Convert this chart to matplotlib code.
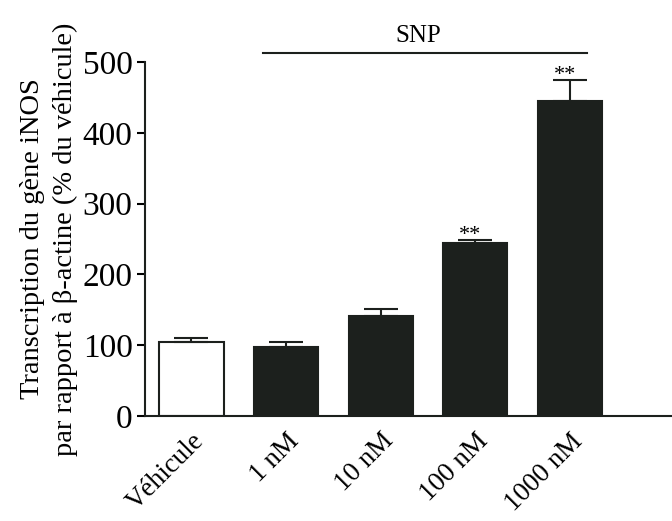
import numpy as np
from matplotlib import pyplot as plt

plt.rcParams['font.family'] = ['Liberation Serif', 'DejaVu Serif']

groups = ["Véhicule", "1 nM", "10 nM", "100 nM", "1000 nM"]
values = [104, 97, 141, 244, 445]
errors = [6, 7, 10, 5, 29]
colors = ["white", "#1c201d", "#1c201d", "#1c201d", "#1c201d"]
stars = ["", "", "", "**", "**"]

fig = plt.figure(figsize=(6.72, 5.21), dpi=100)
ax = fig.add_axes([0.216, 0.2015, 0.784, 0.6795])

x = np.arange(len(groups))
ax.bar(x, values, width=0.68, color=colors, edgecolor="#1c201d", linewidth=1.5,
       yerr=[np.zeros(len(errors)), errors], capsize=12,
       error_kw=dict(ecolor="#1c201d", elinewidth=1.5, capthick=1.5))

for xi, v, e, s in zip(x, values, errors, stars):
    if s:
        ax.text(xi - 0.05, v + e - 7, s, ha="center", va="bottom", fontsize=16)

# SNP bracket
ax.plot([0.76, 4.18], [513, 513], color="#1c201d", linewidth=1.5, clip_on=False)
ax.text(2.40, 528, "SNP", ha="center", va="baseline", fontsize=18)

ax.set_xlim(-0.49, 5.08)
ax.set_ylim(0, 500)
ax.set_yticks([0, 100, 200, 300, 400, 500])
ax.set_xticks(x)
ax.set_xticklabels(groups, rotation=45, ha="right", va="top", rotation_mode="anchor", fontsize=19.5)
ax.tick_params(axis="y", labelsize=24, length=6, width=1.5, direction="out", pad=3)
ax.tick_params(axis="x", length=0, pad=9)
ax.set_ylabel("Transcription du gène iNOS\npar rapport à β-actine (% du véhicule)", fontsize=20.5,
              linespacing=1.4)
ax.yaxis.set_label_coords(-0.127, 0.5)

for side in ["top", "right"]:
    ax.spines[side].set_visible(False)
for side in ["left", "bottom"]:
    ax.spines[side].set_linewidth(1.5)
    ax.spines[side].set_color("#1c201d")

fig.savefig("out.png", dpi=100)
